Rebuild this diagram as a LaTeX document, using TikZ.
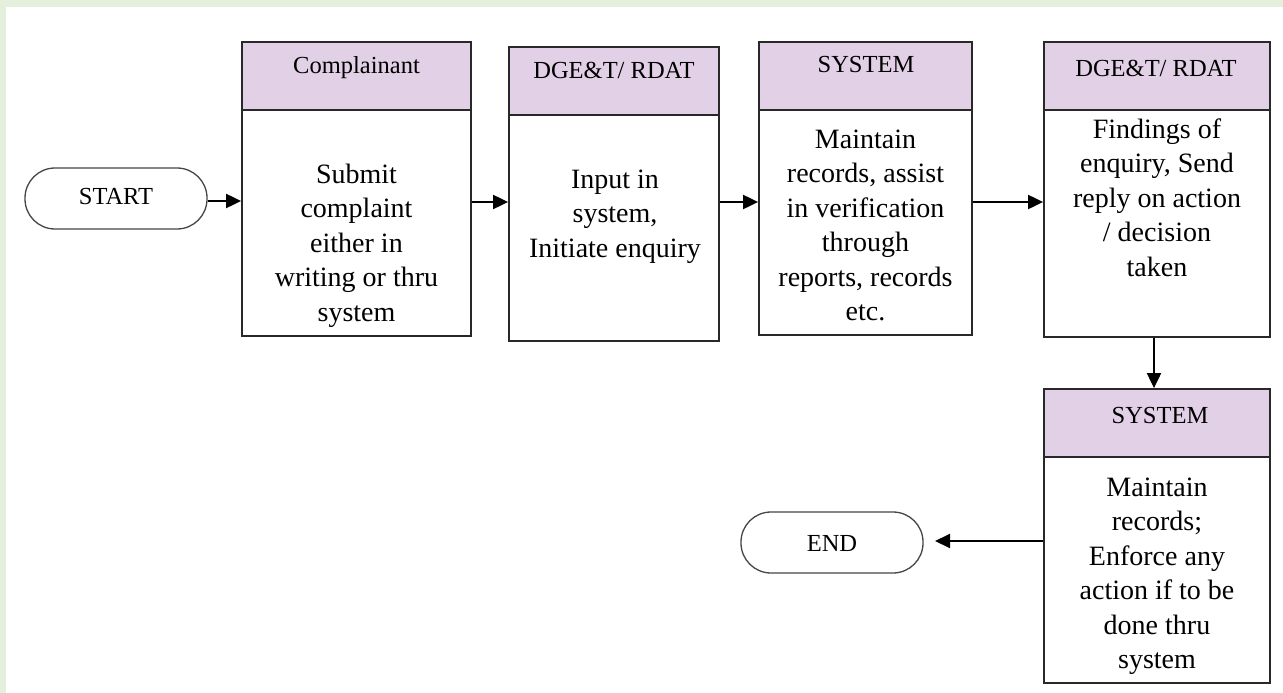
\documentclass[tikz,border=0pt]{standalone}
\usepackage{fontspec}
\setmainfont{Liberation Serif}
\usetikzlibrary{arrows.meta}
\definecolor{bggreen}{RGB}{228,240,220}
\definecolor{hdrfill}{RGB}{226,208,230}
\definecolor{edge}{RGB}{40,40,40}
\definecolor{pilledge}{RGB}{70,70,70}
\begin{document}
\begin{tikzpicture}[x=1pt,y=-1pt,
  boxpart/.style={draw=edge, line width=1.8pt, rectangle, inner sep=0pt},
  hdrpart/.style={boxpart, fill=hdrfill},
  pill/.style={draw=pilledge, line width=1.3pt, rectangle, inner sep=0pt, rounded corners=30pt},
  hdrtxt/.style={font=\fontsize{24.5}{29}\selectfont, inner sep=0pt, anchor=base},
  bodytxt/.style={font=\fontsize{28}{34.5}\selectfont, inner sep=0pt, anchor=north, align=center},
  pilltxt/.style={font=\fontsize{24.5}{29}\selectfont, inner sep=0pt, anchor=base},
  flow/.style={draw=black, line width=2pt, -{Triangle[length=15pt,width=14pt]}}
]
\useasboundingbox (0,0) rectangle (1283,693);
\fill[bggreen] (0,0) rectangle (1283,693);
\fill[white] (6,7) rectangle (1283,693);

% START / END
\node[pill, minimum width=182pt, minimum height=61pt] (start) at (116,198.5) {};
\node[pilltxt] (starttxt) at (116,204) {START};
\node[pill, minimum width=182pt, minimum height=61pt] (end) at (832,542.5) {};
\node[pilltxt] (endtxt) at (832,551) {END};

% Box 1
\node[hdrpart, minimum width=229pt, minimum height=68pt] (h1) at (356.5,76) {};
\node[boxpart, minimum width=229pt, minimum height=226pt] (b1) at (356.5,223) {};
\node[hdrtxt] (h1t) at (356.5,74) {Complainant};
\node[bodytxt] (b1t) at (356.5,158.85) {\strut Submit\\complaint\\either in\\writing or thru\\system};

% Box 2
\node[hdrpart, minimum width=210pt, minimum height=68pt] (h2) at (614,81) {};
\node[boxpart, minimum width=210pt, minimum height=226pt] (b2) at (614,228) {};
\node[hdrtxt] (h2t) at (614,79) {DGE\&T/ RDAT};
\node[bodytxt] (b2t) at (615,163.85) {\strut Input in\\system,\\Initiate enquiry};

% Box 3
\node[hdrpart, minimum width=213pt, minimum height=68pt] (h3) at (865.5,76) {};
\node[boxpart, minimum width=213pt, minimum height=225pt] (b3) at (865.5,222.5) {};
\node[hdrtxt] (h3t) at (866,73) {SYSTEM};
\node[bodytxt] (b3t) at (865.5,123.85) {\strut Maintain\\records, assist\\in verification\\through\\reports, records\\etc.};

% Box 4
\node[hdrpart, minimum width=226pt, minimum height=68pt] (h4) at (1157,76) {};
\node[boxpart, minimum width=226pt, minimum height=227pt] (b4) at (1157,223.5) {};
\node[hdrtxt] (h4t) at (1156,77) {DGE\&T/ RDAT};
\node[bodytxt] (b4t) at (1157,113.85) {\strut Findings of\\enquiry, Send\\reply on action\\/ decision\\taken};

% Box 5
\node[hdrpart, minimum width=226pt, minimum height=68pt] (h5) at (1157,423) {};
\node[boxpart, minimum width=226pt, minimum height=226pt] (b5) at (1157,570) {};
\node[hdrtxt] (h5t) at (1160,423) {SYSTEM};
\node[bodytxt] (b5t) at (1157,471.85) {\strut Maintain\\records;\\Enforce any\\action if to be\\done thru\\system};

% connectors
\draw[flow] (start.east |- 0,201) -- (b1.west |- 0,201);
\draw[flow] (b1.east |- 0,202) -- (b2.west |- 0,202);
\draw[flow] (b2.east |- 0,202) -- (b3.west |- 0,202);
\draw[flow] (b3.east |- 0,202) -- (b4.west |- 0,202);
\draw[flow] (b4.south -| 1154,0) -- (h5.north -| 1154,0);
\coordinate (endtip) at (935,541);
\draw[flow] (b5.west |- 0,541) -- (endtip);
\end{tikzpicture}
\end{document}
